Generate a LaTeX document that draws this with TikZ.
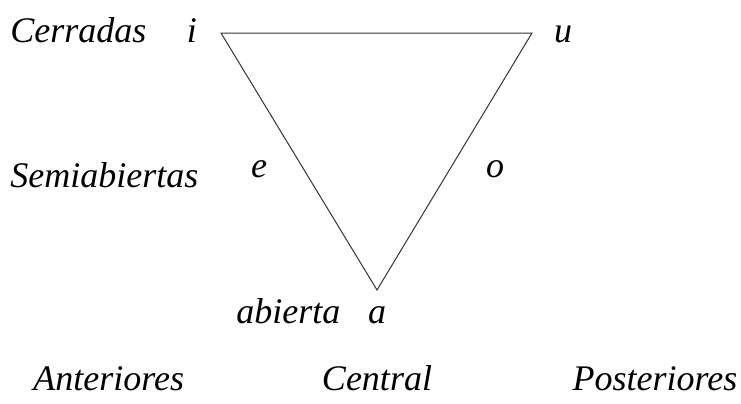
\documentclass[tikz,border=0pt]{standalone}
\usepackage{fontspec}
\setmainfont{Liberation Serif}
\usepackage{tikz}
\usetikzlibrary{positioning}

\begin{document}
\begin{tikzpicture}[x=0.5pt, y=-0.5pt,
    lbl/.style={font=\fontsize{18}{22}\selectfont\itshape, inner sep=0pt, anchor=base}]
    \useasboundingbox (0,0) rectangle (741,403);

    % Triangle
    \coordinate (vi) at (221,33);
    \coordinate (vu) at (532,33);
    \coordinate (va) at (377,290);
    \draw[line width=0.5pt, black!80] (vi) -- (vu) -- (va) -- cycle;

    % Rows
    \node[lbl, anchor=base west] (cerradas) at (10,42) {Cerradas};
    \node[lbl, anchor=base west] (semi) at (10,187) {Semiabiertas};
    \node[lbl, anchor=base west] (abierta) at (236,323) {abierta};

    % Vowels
    \node[lbl] (i) at (192,42) {i};
    \node[lbl] (u) at (563,42) {u};
    \node[lbl] (e) at (259,177) {e};
    \node[lbl] (o) at (495,177) {o};
    \node[lbl] (a) at (377,323) {a};

    % Columns
    \node[lbl, anchor=base west] (anteriores) at (33,390) {Anteriores};
    \node[lbl] (central) at (377,390) {Central};
    \node[lbl] (posteriores) at (655,390) {Posteriores};
\end{tikzpicture}
\end{document}
